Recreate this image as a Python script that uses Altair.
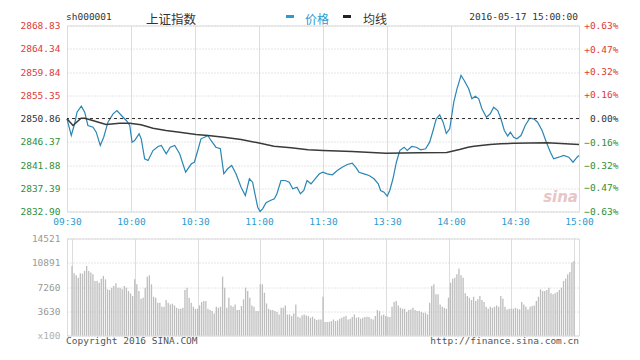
import altair as alt
import pandas as pd

PREV_CLOSE = 2850.86

time_labels = ["09:30", "10:00", "10:30", "11:00", "11:30", "13:30", "14:00", "14:30", "15:00"]
time_ticks = [0, 30, 60, 90, 120, 150, 180, 210, 240]
price_ticks = [2832.90, 2837.39, 2841.88, 2846.37, 2850.86, 2855.35, 2859.84, 2864.34, 2868.83]
pct_ticks = [-0.63, -0.47, -0.32, -0.16, 0.0, 0.16, 0.32, 0.47, 0.63]
vol_ticks = [0, 3630, 7260, 10891, 14521]

# price line (minute index from 09:30, price)
price_min = [0, 2.0, 3.6, 4.7, 6.7, 8.3, 9.8, 12.2, 13.7, 15.6,
             17.2, 19.2, 21.6, 23.4, 25.5, 27.8, 29.4, 30.5, 31.7, 33.8,
             34.8, 36.4, 38.0, 40.3, 42.7, 44.2, 46.5, 48.4, 50.5, 52.8,
             55.6, 58.3, 59.7, 61.3, 62.8, 64.4, 66.0, 67.5, 69.8, 71.9,
             73.5, 75.3, 77.2, 79.2, 81.6, 83.6, 85.5, 87.0, 88.1, 89.4,
             90.5, 91.7, 93.3, 95.3, 97.2, 98.4, 100.3, 102.2, 104.2, 105.8,
             107.8, 109.4, 111.0, 112.5, 114.4, 116.3, 118.3, 119.9, 122.0, 124.4,
             126.7, 129.0, 131.4, 133.7, 135.3, 136.9, 139.2, 141.6, 143.9, 145.9,
             147.0, 148.6, 150.1, 151.3, 152.8, 154.4, 156.0, 158.0, 159.5, 161.6,
             163.7, 165.8, 168.1, 170.0, 171.6, 173.1, 174.7, 176.3, 177.8, 179.4,
             181.3, 182.8, 184.7, 186.2, 188.3, 189.8, 191.4, 193.0, 194.5, 196.6,
             198.4, 200.0, 201.9, 203.4, 205.0, 206.6, 207.8, 209.4, 210.9, 212.8,
             214.8, 216.9, 218.8, 220.6, 222.7, 224.7, 226.6, 228.1, 230.5, 232.8,
             235.2, 237.2, 239.1, 240]
price_val = [2850.81, 2847.58, 2849.90, 2852.08, 2853.24, 2852.08, 2849.51, 2849.18, 2848.22, 2845.65,
             2847.25, 2850.15, 2851.77, 2852.41, 2851.44, 2850.48, 2849.51, 2846.29, 2846.62, 2847.91,
             2846.94, 2843.08, 2842.75, 2844.68, 2845.46, 2845.65, 2844.05, 2845.32, 2845.65, 2844.05,
             2840.49, 2842.11, 2842.42, 2844.68, 2846.94, 2847.25, 2847.58, 2846.62, 2845.32, 2845.01,
             2840.18, 2841.15, 2841.79, 2840.18, 2837.59, 2835.99, 2839.22, 2838.56, 2836.32, 2833.73,
             2832.90, 2833.42, 2834.58, 2835.03, 2835.35, 2836.32, 2838.89, 2838.89, 2838.56, 2837.28,
             2837.59, 2836.32, 2836.96, 2838.89, 2838.25, 2839.22, 2840.18, 2840.49, 2840.18, 2839.99,
             2840.82, 2841.46, 2841.98, 2842.23, 2841.46, 2840.49, 2840.18, 2839.85, 2839.22, 2838.25,
             2836.96, 2836.63, 2835.86, 2836.96, 2839.22, 2842.42, 2844.68, 2845.32, 2844.68, 2845.46,
             2845.32, 2844.82, 2845.01, 2846.29, 2848.55, 2850.81, 2851.58, 2850.15, 2848.00, 2848.88,
             2854.01, 2856.60, 2859.17, 2858.21, 2856.60, 2854.67, 2855.17, 2854.67, 2852.74, 2851.12,
             2851.77, 2853.05, 2852.41, 2850.81, 2848.55, 2847.45, 2848.22, 2847.25, 2846.94, 2847.58,
             2849.51, 2850.92, 2850.81, 2850.15, 2848.55, 2846.29, 2844.36, 2843.08, 2843.39, 2843.72,
             2843.39, 2842.42, 2843.39, 2843.72]

# average-price line
avg_min = [0, 2.8, 6.6, 8.4, 13.6, 18.3, 24.7, 29.4, 34.7, 40.3, 46.4, 52.8, 60.5, 66.1, 73.6,
           81.6, 89.5, 97.0, 105.0, 113.0, 120.0, 133.6, 149.5, 165.0, 178.0, 184.0, 188.0,
           190.8, 198.3, 203.4, 209.5, 225.0, 240]
avg_val = [2850.81, 2849.51, 2850.92, 2850.92, 2850.29, 2849.71, 2849.96, 2849.96, 2849.65, 2848.99,
           2848.55, 2848.22, 2847.77, 2847.58, 2847.25, 2846.81, 2846.17, 2845.51, 2845.21, 2844.82,
           2844.68, 2844.49, 2844.16, 2844.24, 2844.30, 2844.88, 2845.32, 2845.51, 2845.84, 2845.98,
           2846.09, 2846.17, 2845.84]

# per-minute volume (x100)
volume = [10415, 9313, 9013, 8662, 9313, 9263, 9664, 10415, 9664, 9413,
          9163, 8161, 8161, 7911, 8512, 8912, 8412, 6910, 6810, 7160,
          7410, 7811, 7160, 7160, 6910, 7410, 7160, 6659, 6309, 5908,
          8412, 7661, 6659, 5508, 5658, 7160, 8812, 9013, 7661, 5808,
          5658, 4907, 4907, 4306, 4306, 5307, 4907, 4657, 4757, 4506,
          4156, 4006, 4006, 4156, 6810, 7160, 5658, 4907, 4306, 4006,
          4006, 4506, 5007, 5157, 5157, 4006, 3805, 3655, 3305, 4306,
          4156, 4306, 8812, 7160, 4156, 5658, 4506, 4306, 4657, 3805,
          3805, 4406, 5408, 7160, 6659, 5658, 4506, 4306, 3655, 3655,
          7661, 7661, 6409, 4807, 4006, 3805, 3805, 3655, 3505, 3154,
          4156, 4156, 4506, 3154, 3154, 2904, 3305, 4657, 2804, 2654,
          3004, 3154, 3004, 2904, 2654, 2804, 2504, 2303, 2403, 2403,
          5808, 2003, 2003, 2053, 2153, 2403, 2153, 2253, 2504, 2654,
          2804, 2904, 2403, 2504, 2754, 3154, 2654, 2754, 2504, 2654,
          2754, 2804, 2754, 2504, 2403, 2904, 3805, 3655, 3004, 3154,
          2904, 2804, 2754, 4306, 5007, 5157, 4506, 4156, 4006, 4006,
          3505, 3805, 3905, 4156, 3805, 3655, 3655, 3505, 3405, 3405,
          3154, 4907, 7410, 7661, 6159, 6159, 4657, 4306, 4156, 4006,
          5658, 7911, 8512, 8662, 9163, 10014, 9013, 8662, 6309, 5908,
          5658, 5307, 5808, 5157, 5408, 5908, 5307, 5007, 4306, 4006,
          4306, 4156, 4306, 4506, 4306, 5908, 5508, 4306, 3905, 4006,
          4006, 4006, 4156, 4006, 3905, 5007, 4657, 4306, 3905, 4306,
          4406, 4506, 5157, 5808, 6910, 6659, 6659, 6810, 7160, 6309,
          6159, 6309, 6509, 6810, 7160, 8161, 8512, 9163, 9513, 10915,
          11166]

MONO = "DejaVu Sans Mono"
CJK = "Noto Sans CJK SC"
RED = "#dd3b3b"
GREEN = "#2f8f3a"
DARK = "#333333"
BLUE = "#2b9ad0"
LINE_BLUE = "#2a86b4"

lines_df = pd.concat([
    pd.DataFrame({"m": price_min, "p": price_val, "s": "价格"}),
    pd.DataFrame({"m": avg_min, "p": avg_val, "s": "均线"}),
], ignore_index=True)
vol_df = pd.DataFrame({"m": list(range(len(volume))), "v": volume})
zero_df = pd.DataFrame({"pct": [0.0]})

label_js = "[" + ",".join("'%s'" % t for t in time_labels) + "]"
x_scale = alt.Scale(domain=[0, 240], nice=False, zero=False)
y_scale = alt.Scale(domain=[price_ticks[0], price_ticks[-1]], nice=False, zero=False)

x_axis_main = alt.Axis(values=time_ticks, labelExpr=label_js + "[round(datum.value/30)]",
                       grid=True, gridColor="#dddddd", ticks=False, domain=False,
                       labelColor=BLUE, labelFont=MONO, labelFontSize=9.5, labelPadding=5,
                       labelFlush=False, title=None)

y_axis_left = alt.Axis(values=price_ticks, format=".2f", grid=True, gridColor="#cccccc",
                       gridDash=[1, 2], ticks=False, domain=False, labelFont=MONO,
                       labelFontSize=9.5, labelPadding=7, minExtent=47, maxExtent=47, title=None,
                       labelColor={"condition": [{"test": "datum.value > 2850.9", "value": RED},
                                                 {"test": "datum.value < 2850.8", "value": GREEN}],
                                   "value": DARK})

lines = alt.Chart(lines_df).mark_line().encode(
    x=alt.X("m:Q", scale=x_scale, axis=x_axis_main),
    y=alt.Y("p:Q", scale=y_scale, axis=y_axis_left),
    color=alt.Color("s:N", scale=alt.Scale(domain=["价格", "均线"], range=[LINE_BLUE, "#3a3a3a"]),
                    legend=None),
    strokeWidth=alt.StrokeWidth("s:N", scale=alt.Scale(domain=["价格", "均线"], range=[1.2, 1.5]),
                                legend=None),
)

pct_rule = alt.Chart(zero_df).mark_rule(color=DARK, strokeDash=[3, 3], strokeWidth=1).encode(
    y=alt.Y("pct:Q", scale=alt.Scale(domain=[-0.63, 0.63], nice=False, zero=False),
            axis=alt.Axis(orient="right", values=pct_ticks,
                          labelExpr="(datum.value > 0.001 ? '+' : '') + format(datum.value, '.2f') + '%'",
                          grid=False, ticks=False, domain=False, labelFont=MONO, labelFontSize=9.5,
                          labelAlign="right", labelPadding=39, title=None,
                          labelColor={"condition": [{"test": "datum.value > 0.001", "value": RED},
                                                    {"test": "datum.value < -0.001", "value": GREEN}],
                                      "value": DARK}))
)


def txt(s, x, y, color=DARK, font=MONO, size=9.5, align="left", **kw):
    return alt.Chart(pd.DataFrame({"t": [s]})).mark_text(
        align=align, baseline="middle", font=font, fontSize=size, color=color, **kw
    ).encode(text="t:N", x=alt.value(x), y=alt.value(y))


header = [
    txt("sh000001", -1, -9),
    txt("上证指数", 79, -6, font=CJK, size=12.5),
    txt("价格", 238, -6, color=BLUE, font=CJK, size=12),
    txt("均线", 296, -6, font=CJK, size=12),
    txt("2016-05-17 15:00:00", 511, -9, align="right"),
    txt("sina", 511, 171, color="#e6c6c6", font="DejaVu Sans", size=15, align="right",
        fontStyle="italic", fontWeight="bold"),
]
dash_blue = alt.Chart(zero_df).mark_rule(color=BLUE, strokeWidth=3).encode(
    x=alt.value(219), x2=alt.value(227), y=alt.value(-9))
dash_dark = alt.Chart(zero_df).mark_rule(color="#222222", strokeWidth=3).encode(
    x=alt.value(276), x2=alt.value(284), y=alt.value(-9))

main = alt.layer(lines, pct_rule, dash_blue, dash_dark, *header).resolve_scale(
    y="independent").properties(width=512, height=186)

vol_bars = alt.Chart(vol_df).mark_bar(color="#bdbdbd", size=1.3).encode(
    x=alt.X("m:Q", scale=x_scale,
            axis=alt.Axis(values=time_ticks, labels=False, ticks=False, domain=False, grid=True,
                          gridColor="#dddddd", title=None)),
    y=alt.Y("v:Q", scale=alt.Scale(domain=[0, vol_ticks[-1]], nice=False, zero=True),
            axis=alt.Axis(values=vol_ticks, labelExpr="datum.value == 0 ? 'x100' : format(datum.value, 'd')",
                          grid=True, gridColor="#cccccc", gridDash=[1, 2], ticks=False, domain=False,
                          labelFont=MONO, labelFontSize=9.5, labelPadding=7, minExtent=47, maxExtent=47,
                          title=None,
                          labelColor={"condition": {"test": "datum.value == 0", "value": "#b0b0b0"},
                                      "value": "#999999"})),
)
footer = [
    txt("Copyright 2016 SINA.COM", -1, 102, color="#555555"),
    txt("http://finance.sina.com.cn", 512, 102, color="#555555", align="right"),
]
vol_chart = alt.layer(vol_bars, *footer).properties(width=512, height=97)

chart = alt.vconcat(main, vol_chart, spacing=6).configure_view(
    stroke="#aaaaaa", strokeWidth=1
).configure(background="white", padding={"left": 11, "top": 2.5, "right": 5, "bottom": 0})

chart.save("out.html", embed_options={"renderer": "svg", "actions": False})
